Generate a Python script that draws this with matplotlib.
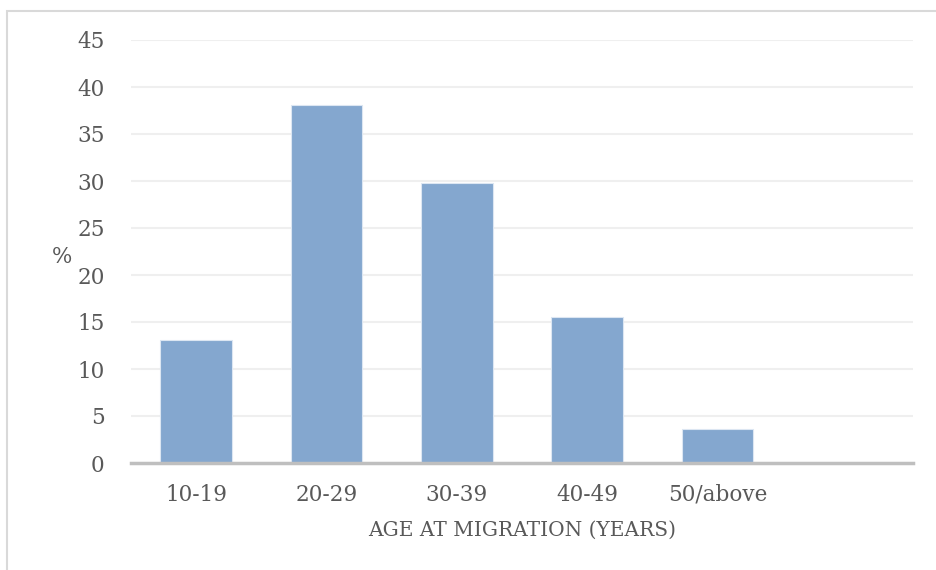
import matplotlib.pyplot as plt
from matplotlib.patches import Rectangle

plt.rcParams['font.family'] = ['DejaVu Serif']

age_groups = ["10-19", "20-29", "30-39", "40-49", "50/above"]
percent = [13.1, 38.1, 29.8, 15.5, 3.6]
y_ticks = [0, 5, 10, 15, 20, 25, 30, 35, 40, 45]

text_color = "#595959"

fig = plt.figure(figsize=(9.36, 5.70), dpi=100)
ax = fig.add_axes([131 / 936, 107 / 570, 782 / 936, 423 / 570])

# light outer frame, only the top and left edges fall inside the canvas
fig.patches.append(Rectangle((7 / 936, -0.1), 1.2, (559 / 570) + 0.1,
                             transform=fig.transFigure, fill=False,
                             edgecolor="#D9D9D9", linewidth=1.5))

x = list(range(len(age_groups)))
ax.bar(x, percent, width=0.55, color="#84A7CF", edgecolor="#DCE6F2",
       linewidth=0.8, zorder=3)

ax.set_xlim(-0.5, 5.5)
ax.set_ylim(0, 45)
ax.set_yticks(y_ticks)
ax.set_xticks(x)
ax.set_xticklabels(age_groups)

ax.yaxis.grid(True, color="#EFEFEF", linewidth=1.5, zorder=0)
ax.set_axisbelow(True)
for side in ["top", "right", "left"]:
    ax.spines[side].set_visible(False)
ax.spines["bottom"].set_color("#BFBFBF")
ax.spines["bottom"].set_linewidth(2.5)
ax.spines["bottom"].set_zorder(4)

ax.tick_params(axis="both", length=0, labelsize=15.5, colors=text_color)
ax.tick_params(axis="y", pad=19)
ax.tick_params(axis="x", pad=15)

ax.set_xlabel("AGE AT MIGRATION (YEARS)", fontsize=14.5, color=text_color, labelpad=11)
ax.set_ylabel("%", fontsize=15.5, color=text_color, rotation=0, va="center")
ax.yaxis.set_label_coords(-0.088, 0.487)

fig.savefig("out.png", dpi=100)
